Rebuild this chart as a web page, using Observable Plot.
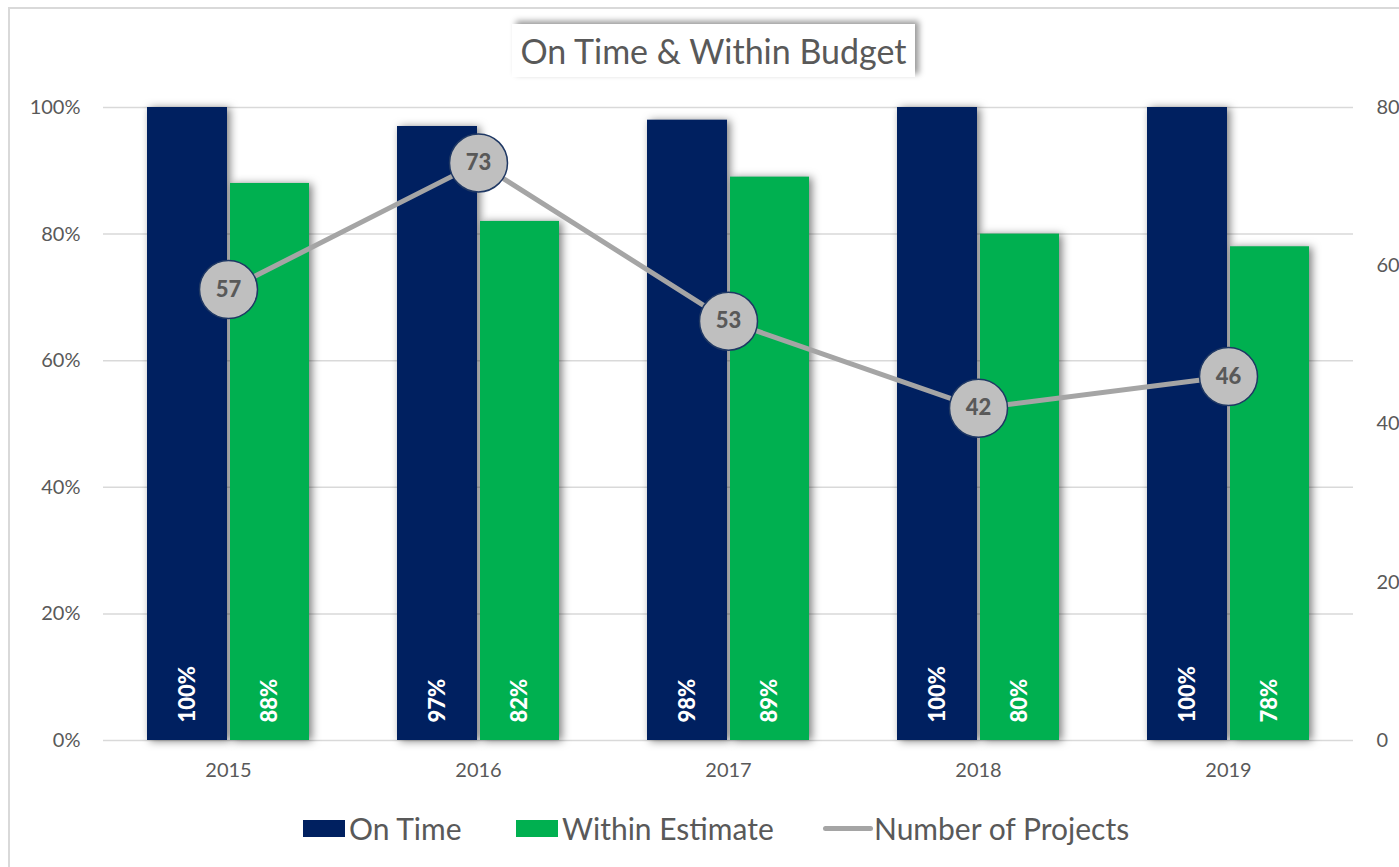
<!DOCTYPE html>
<html><head><meta charset="utf-8">
<script src="https://cdn.jsdelivr.net/npm/d3@7"></script>
<script src="https://cdn.jsdelivr.net/npm/@observablehq/plot@0.6"></script>
<style>
html,body{margin:0;padding:0;width:1399px;height:867px;overflow:hidden;background:#fff;font-family:Lato,sans-serif;}
#frame{position:absolute;left:8px;top:7px;width:1450px;height:920px;border:2px solid #d9d9d9;}
#title{position:absolute;left:512px;top:24px;width:403px;height:53px;background:#fff;box-shadow:4px -3px 6px rgba(0,0,0,.4);font-size:34px;color:#595959;text-align:center;line-height:53px;white-space:nowrap;}
#chart{position:absolute;left:0;top:80px;}
.li{position:absolute;top:810px;height:36px;display:flex;align-items:center;font-size:30px;color:#595959;white-space:nowrap;}
.sw{width:42px;height:17px;margin-right:4px;}
.ln{width:50px;height:5px;border-radius:3px;background:#a5a5a5;margin-right:1px;}
</style></head>
<body>
<div id="frame"></div>
<div id="chart"></div>
<div id="title">On Time &amp; Within Budget</div>
<div class="li" style="left:303px"><div class="sw" style="background:#002060"></div>On Time</div>
<div class="li" style="left:516px"><div class="sw" style="background:#00b050"></div>Within Estimate</div>
<div class="li" style="left:823px"><div class="ln"></div>Number of Projects</div>
<script>
const years = ["2015","2016","2017","2018","2019"];
const onTime = [1.00,0.97,0.98,1.00,1.00];
const withinEstimate = [0.88,0.82,0.89,0.80,0.78];
const projects = [57,73,53,42,46];
const leftTicks = [0,0.2,0.4,0.6,0.8,1];
const rightTicks = [0,20,40,60,80];
const projMax = 80;

const rows = years.map((y,i)=>({year:y,onTime:onTime[i],within:withinEstimate[i],projects:projects[i]}));
const pct = d3.format(".0%");

const chart = Plot.plot({
  width:1399, height:720,
  marginLeft:103, marginRight:46, marginTop:27, marginBottom:60,
  style:{fontFamily:"Lato, sans-serif", color:"#595959", background:"transparent"},
  x:{domain:years, padding:0, label:null},
  y:{domain:[0,1], label:null},
  marks:[
    Plot.gridY(leftTicks,{stroke:"#d9d9d9",strokeOpacity:1,strokeWidth:1.5}),
    Plot.barY(rows,{x:"year",y:"onTime",fill:"#002060",insetLeft:44,insetRight:126}),
    Plot.barY(rows,{x:"year",y:"within",fill:"#00b050",insetLeft:127,insetRight:44}),
    Plot.text(rows,{x:"year",y:()=>0,text:d=>pct(d.onTime),rotate:-90,textAnchor:"start",dx:-41,dy:-18,fill:"white",fontWeight:"900",fontSize:22}),
    Plot.text(rows,{x:"year",y:()=>0,text:d=>pct(d.within),rotate:-90,textAnchor:"start",dx:41,dy:-18,fill:"white",fontWeight:"900",fontSize:22}),
    Plot.line(rows,{x:"year",y:d=>d.projects/projMax,stroke:"#a5a5a5",strokeWidth:5}),
    Plot.dot(rows,{x:"year",y:d=>d.projects/projMax,r:29,fill:"#bfbfbf",stroke:"#1f3864",strokeWidth:1.5}),
    Plot.text(rows,{x:"year",y:d=>d.projects/projMax,text:d=>String(d.projects),fontWeight:"900",fontSize:22,fill:"#595959"}),
    Plot.axisY(leftTicks,{anchor:"left",tickSize:0,tickPadding:23,tickFormat:pct,fontSize:20,label:null}),
    Plot.axisY(rightTicks.map(v=>v/projMax),{anchor:"right",tickSize:0,tickPadding:23,tickFormat:d=>String(Math.round(d*projMax)),fontSize:20,label:null}),
    Plot.axisX({tickSize:0,tickPadding:22,fontSize:20,label:null})
  ]
});
document.getElementById("chart").appendChild(chart);
d3.select(chart).selectAll("g[aria-label=bar]").style("filter","drop-shadow(3px 1px 4px rgba(0,0,0,.5))");
</script>
</body></html>
